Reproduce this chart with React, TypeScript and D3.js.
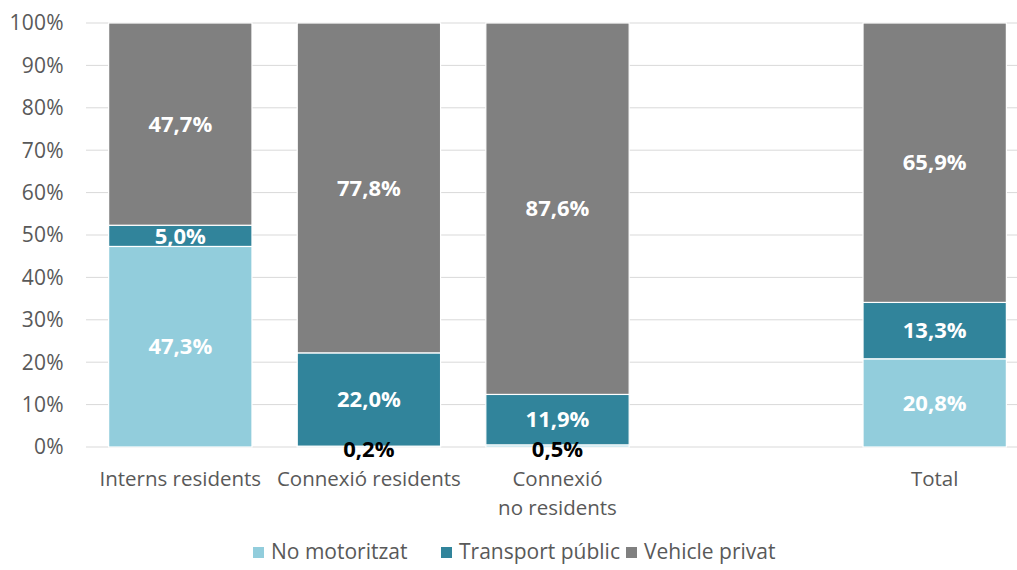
import React from "react";
import * as d3 from "d3";

const categories = ["Interns residents", "Connexió residents", "Connexió\nno residents", "", "Total"];
const series = ["No motoritzat", "Transport públic", "Vehicle privat"];
const noMotoritzat = [47.3, 0.2, 0.5, null, 20.8];
const transportPublic = [5.0, 22.0, 11.9, null, 13.3];
const vehiclePrivat = [47.7, 77.8, 87.6, null, 65.9];
const yTicks = [0, 10, 20, 30, 40, 50, 60, 70, 80, 90, 100];
const colors = ["#92CDDC", "#31849B", "#808080"];

const W = 1017, H = 570;
const margin = { left: 86, right: -12, top: 23, bottom: 123 };

export default function App() {
  const x = d3.scaleBand().domain(categories).range([margin.left, W - margin.right]).paddingInner(0.24).paddingOuter(0.12);
  const y = d3.scaleLinear().domain([0, 100]).range([H - margin.bottom, margin.top]);
  const rows = categories.map((c, i) => ({ cat: c, a: noMotoritzat[i], b: transportPublic[i], c2: vehiclePrivat[i] }));
  const stack = d3.stack<any>().keys(["a", "b", "c2"]).value((d, k) => (d[k] == null ? 0 : d[k]));
  const layers = stack(rows);
  const fmt = (v: number) => v.toFixed(1).replace(".", ",") + "%";
  const font = "'Open Sans', sans-serif";
  const vals = [noMotoritzat, transportPublic, vehiclePrivat];

  return (
    <svg width={W} height={H} style={{ position: "absolute", left: 0, top: 0, fontFamily: font }}>
      {yTicks.map((t) => (
        <g key={t}>
          <line x1={margin.left} x2={W} y1={y(t)} y2={y(t)} stroke="#d9d9d9" strokeWidth={1} />
          <text x={64} y={y(t)} dy="0.35em" textAnchor="end" fontSize={21} fill="#595959" letterSpacing={0.3}>{t}%</text>
        </g>
      ))}
      {layers.map((layer, li) =>
        layer.map((d, i) => {
          const v = vals[li][i];
          if (v == null) return null;
          return (
            <rect key={li + "-" + i} x={x(categories[i])} width={x.bandwidth()} y={y(d[1])} height={y(d[0]) - y(d[1])}
              fill={colors[li]} stroke="#ffffff" strokeWidth={1.2} />
          );
        })
      )}
      {layers.map((layer, li) =>
        layer.map((d, i) => {
          const v = vals[li][i];
          if (v == null) return null;
          const small = v < 2;
          return (
            <text key={"l" + li + "-" + i} x={(x(categories[i]) as number) + x.bandwidth() / 2}
              y={small ? y(0) + 2 : y((d[0] + d[1]) / 2)} dy="0.35em" textAnchor="middle" fontSize={22} fontWeight="bold"
              fill={small ? "#000000" : "#ffffff"}>{fmt(v)}</text>
          );
        })
      )}
      {categories.map((c, i) => (
        <text key={"c" + i} x={(x(c) as number) + x.bandwidth() / 2} y={479} textAnchor="middle" fontSize={20.5} fill="#595959">
          {c.split("\n").map((line, j) => (
            <tspan key={j} x={(x(c) as number) + x.bandwidth() / 2} dy={j === 0 ? "0.35em" : 29}>{line}</tspan>
          ))}
        </text>
      ))}
      {(() => {
        const starts = [253, 441, 626];
        return series.map((s, i) => (
          <g key={s}>
            <rect x={starts[i]} y={547} width={11} height={11} fill={colors[i]} />
            <text x={starts[i] + 18} y={552} dy="0.35em" fontSize={21} fill="#595959">{s}</text>
          </g>
        ));
      })()}
    </svg>
  );
}
